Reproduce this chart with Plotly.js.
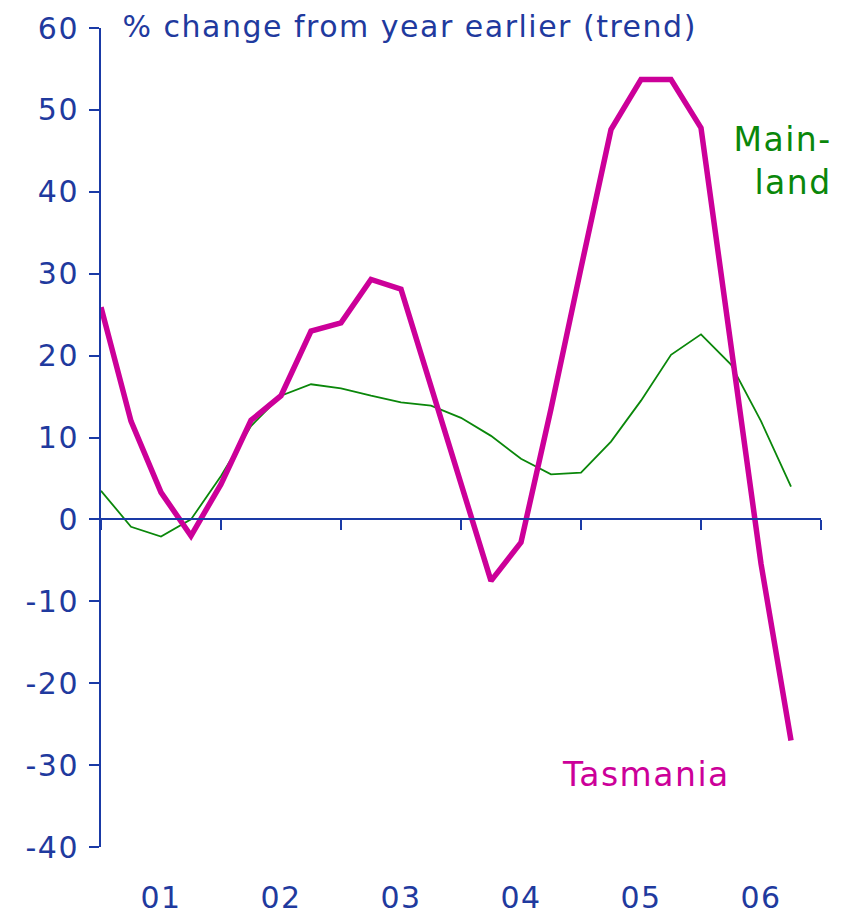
<!DOCTYPE html>
<html><head><meta charset="utf-8">
<script src="https://cdn.plot.ly/plotly-3.0.1.min.js"></script>
<style>html,body{margin:0;padding:0;background:#fff}#chart{width:847px;height:914px}
#chart svg text{letter-spacing:1.5px}</style>
</head><body><div id="chart"></div>
<script>
// quarterly index: 0 = start of 2001 ... 23 = last quarter plotted
const quarters = [0,1,2,3,4,5,6,7,8,9,10,11,12,13,14,15,16,17,18,19,20,21,22,23];
const tasmania = [25.9,12.0,3.3,-2.0,4.3,12.1,15.1,23.0,24.0,29.3,28.1,16.3,4.5,-7.5,-2.8,13.5,30.7,47.6,53.7,53.7,47.8,20.8,-5.4,-27.0];
const mainland = [3.5,-0.9,-2.1,0.0,5.3,11.4,15.1,16.5,16.0,15.1,14.3,13.9,12.4,10.2,7.4,5.5,5.7,9.5,14.5,20.1,22.6,18.9,12.0,4.0];
const yearTickPos = [2,6,10,14,18,22];
const yearLabels = ['01','02','03','04','05','06'];
const yearBounds = [0,4,8,12,16,20,24];
const yTickVals = [-40,-30,-20,-10,0,10,20,30,40,50,60];
const yTickText = ['-40','-30','-20','-10','0','10','20','30','40','50','60'];

const blue = '#1a3aa6';
const txt = '#1f3a9e';
const pink = '#cc0099';
const green = '#0a870a';
const font = 'DejaVu Sans, Verdana, sans-serif';

const traces = [
  {x: quarters, y: mainland, type:'scatter', mode:'lines', line:{color:green, width:1.8}, xaxis:'x', yaxis:'y', hoverinfo:'skip'},
  {x: quarters, y: tasmania, type:'scatter', mode:'lines', line:{color:pink, width:5.5}, xaxis:'x', yaxis:'y', hoverinfo:'skip'},
  {x: [yearTickPos[0]], y: [null], type:'scatter', mode:'lines', xaxis:'x2', yaxis:'y', showlegend:false, hoverinfo:'skip'}
];

const layout = {
  width: 847, height: 914,
  margin: {l:101, r:26, t:28, b:67},
  paper_bgcolor:'#fff', plot_bgcolor:'#fff',
  showlegend:false,
  font:{family:font, color:txt, size:30},
  xaxis: {
    range:[0,24], anchor:'free', position:0.4,
    showgrid:false, zeroline:false,
    showline:true, linecolor:blue, linewidth:2,
    tickmode:'array', tickvals:yearBounds, ticktext:yearBounds.map(()=>''),
    ticks:'outside', ticklen:10, tickwidth:2, tickcolor:blue,
    showticklabels:false, fixedrange:true
  },
  xaxis2: {
    range:[0,24], overlaying:'x', anchor:'y', side:'bottom',
    showgrid:false, zeroline:false, showline:false,
    tickmode:'array', tickvals:yearTickPos, ticktext:yearLabels,
    ticks:'', ticklabelstandoff:30,
    tickfont:{family:font, color:txt, size:30}
  },
  yaxis: {
    range:[-40,60], showgrid:false, zeroline:false,
    showline:true, linecolor:blue, linewidth:2,
    tickmode:'array', tickvals:yTickVals, ticktext:yTickText,
    ticks:'outside', ticklen:10, tickwidth:2, tickcolor:blue,
    ticklabelstandoff:4,
    tickfont:{family:font, color:txt, size:30}
  },
  annotations: [
    {text:'% change from year earlier (trend)', xref:'paper', yref:'paper', x:0.063, y:1.002,
     xanchor:'left', yanchor:'middle', showarrow:false, font:{family:font, color:txt, size:30}},
    {text:'Main-<br>land', xref:'paper', yref:'y', x:1.018, y:43.8, xanchor:'right', yanchor:'middle',
     align:'right', showarrow:false, font:{family:font, color:green, size:33}},
    {text:'Tasmania', xref:'x', yref:'y', x:18.15, y:-31.2, xanchor:'center', yanchor:'middle',
     showarrow:false, font:{family:font, color:pink, size:33}}
  ]
};

Plotly.newPlot('chart', traces, layout, {staticPlot:true, displayModeBar:false});
</script>
</body></html>
